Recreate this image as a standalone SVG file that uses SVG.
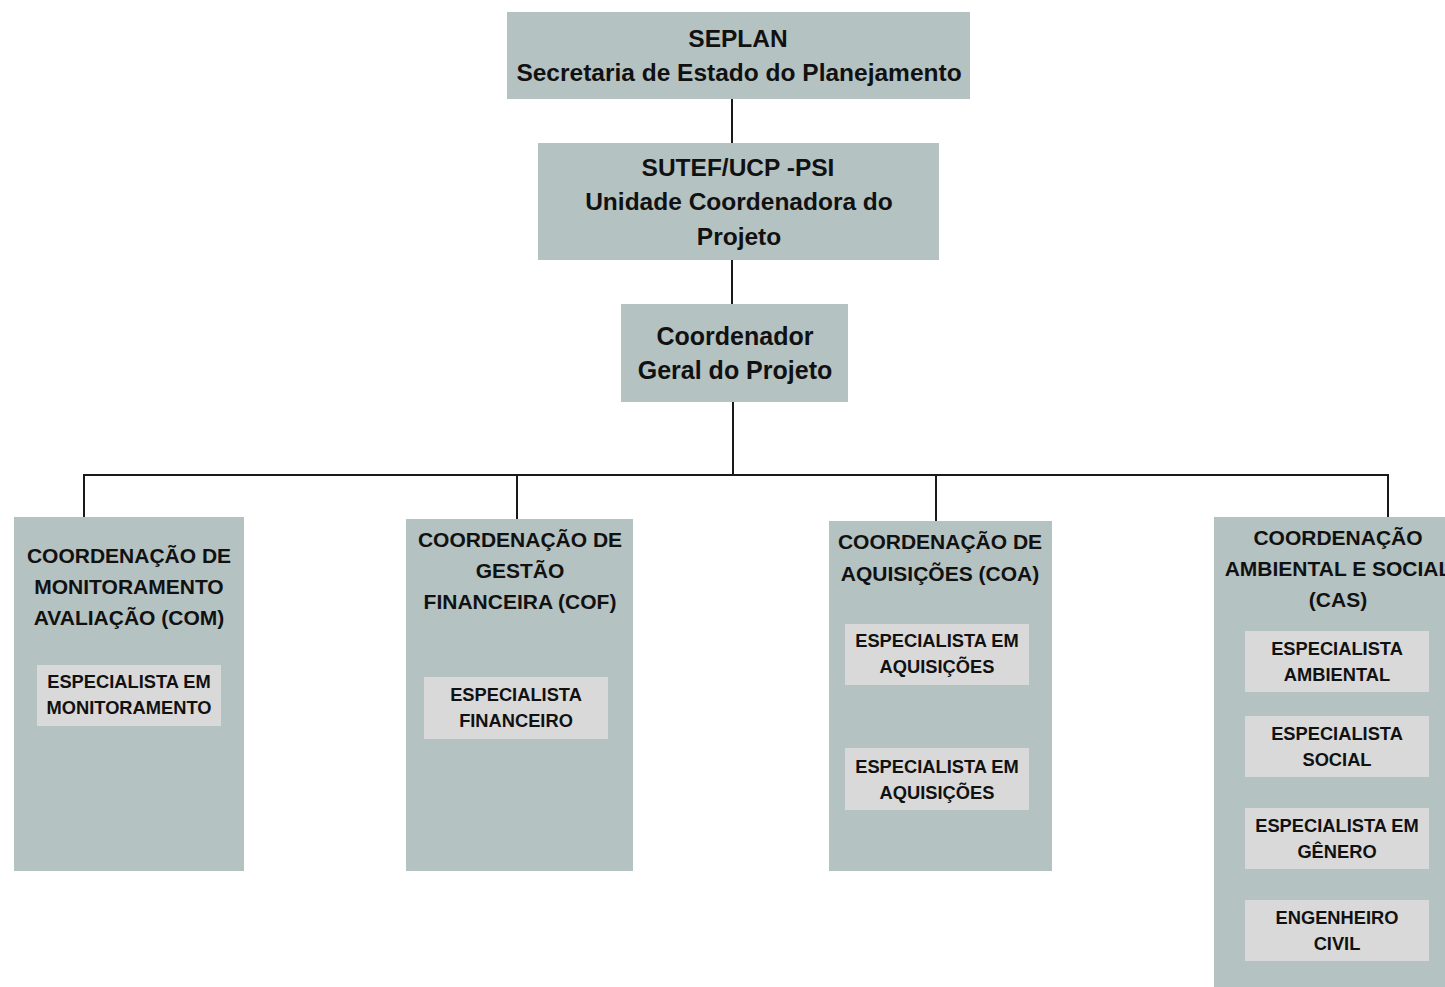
<svg xmlns="http://www.w3.org/2000/svg" width="1445" height="987" viewBox="0 0 1445 987">
<style>
.box{fill:#b5c2c2}
.inner{fill:#d9d9d9}
.t{font-family:"Liberation Sans",Arial,sans-serif;font-weight:bold;fill:#111;text-anchor:middle}
.top{font-size:24.5px}
.big{font-size:25px}
.title{font-size:21px}
.sub{font-size:18.3px}
.conn{stroke:#1a1a1a;stroke-width:2;fill:none}
</style>
<rect width="1445" height="987" fill="#ffffff"/>
<g id="connectors">
<line class="conn" x1="732" y1="99" x2="732" y2="143"/>
<line class="conn" x1="732" y1="260" x2="732" y2="304"/>
<line class="conn" x1="733" y1="402" x2="733" y2="475"/>
<line class="conn" x1="83" y1="475" x2="1389" y2="475"/>
<line class="conn" x1="84" y1="474" x2="84" y2="517"/>
<line class="conn" x1="517" y1="474" x2="517" y2="519"/>
<line class="conn" x1="936" y1="475" x2="936" y2="521"/>
<line class="conn" x1="1388" y1="474" x2="1388" y2="517"/>
</g>
<g id="seplan">
<rect class="box" x="507" y="12" width="463" height="87"/>
<text class="t top" x="738" y="47">SEPLAN</text>
<text class="t top" x="739" y="81">Secretaria de Estado do Planejamento</text>
</g>
<g id="sutef">
<rect class="box" x="538" y="143" width="401" height="117"/>
<text class="t top" x="738" y="176">SUTEF/UCP -PSI</text>
<text class="t top" x="739" y="210">Unidade Coordenadora do</text>
<text class="t top" x="739" y="245">Projeto</text>
</g>
<g id="coordenador">
<rect class="box" x="621" y="304" width="227" height="98"/>
<text class="t big" x="735" y="345">Coordenador</text>
<text class="t big" x="735" y="379">Geral do Projeto</text>
</g>
<g id="com">
<rect class="box" x="14" y="517" width="230" height="354"/>
<text class="t title" x="129" y="563">COORDENAÇÃO DE</text>
<text class="t title" x="129" y="594">MONITORAMENTO</text>
<text class="t title" x="129" y="625">AVALIAÇÃO (COM)</text>
<rect class="inner" x="37" y="665" width="184" height="61"/>
<text class="t sub" x="129" y="688">ESPECIALISTA EM</text>
<text class="t sub" x="129" y="714">MONITORAMENTO</text>
</g>
<g id="cof">
<rect class="box" x="406" y="519" width="227" height="352"/>
<text class="t title" x="520" y="547">COORDENAÇÃO DE</text>
<text class="t title" x="520" y="578">GESTÃO</text>
<text class="t title" x="520" y="609">FINANCEIRA (COF)</text>
<rect class="inner" x="424" y="677" width="184" height="62"/>
<text class="t sub" x="516" y="701">ESPECIALISTA</text>
<text class="t sub" x="516" y="727">FINANCEIRO</text>
</g>
<g id="coa">
<rect class="box" x="829" y="521" width="223" height="350"/>
<text class="t title" x="940" y="549">COORDENAÇÃO DE</text>
<text class="t title" x="940" y="581">AQUISIÇÕES (COA)</text>
<rect class="inner" x="845" y="624" width="184" height="61"/>
<text class="t sub" x="937" y="647">ESPECIALISTA EM</text>
<text class="t sub" x="937" y="673">AQUISIÇÕES</text>
<rect class="inner" x="845" y="748" width="184" height="62"/>
<text class="t sub" x="937" y="773">ESPECIALISTA EM</text>
<text class="t sub" x="937" y="799">AQUISIÇÕES</text>
</g>
<g id="cas">
<rect class="box" x="1214" y="517" width="260" height="480"/>
<text class="t title" x="1338" y="545">COORDENAÇÃO</text>
<text class="t title" x="1338" y="576">AMBIENTAL E SOCIAL</text>
<text class="t title" x="1338" y="607">(CAS)</text>
<rect class="inner" x="1245" y="631" width="184" height="61"/>
<text class="t sub" x="1337" y="655">ESPECIALISTA</text>
<text class="t sub" x="1337" y="681">AMBIENTAL</text>
<rect class="inner" x="1245" y="716" width="184" height="61"/>
<text class="t sub" x="1337" y="740">ESPECIALISTA</text>
<text class="t sub" x="1337" y="766">SOCIAL</text>
<rect class="inner" x="1245" y="808" width="184" height="61"/>
<text class="t sub" x="1337" y="832">ESPECIALISTA EM</text>
<text class="t sub" x="1337" y="858">GÊNERO</text>
<rect class="inner" x="1245" y="900" width="184" height="61"/>
<text class="t sub" x="1337" y="924">ENGENHEIRO</text>
<text class="t sub" x="1337" y="950">CIVIL</text>
</g>
</svg>
